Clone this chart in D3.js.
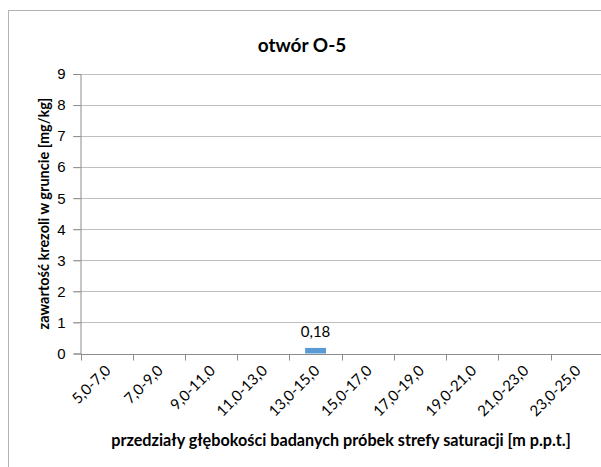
<!DOCTYPE html>
<html>
<head>
<meta charset="utf-8">
<script src="https://cdn.jsdelivr.net/npm/d3@7"></script>
<style>
  html, body { margin: 0; padding: 0; background: #fff; }
  svg { display: block; font-family: Lato, "Open Sans", sans-serif; }
</style>
</head>
<body>
<svg id="chart" width="601" height="467"></svg>
<script>
// Depth intervals of the saturation-zone samples (borehole O-5)
const categories = ["5,0-7,0", "7,0-9,0", "9,0-11,0", "11,0-13,0", "13,0-15,0",
                    "15,0-17,0", "17,0-19,0", "19,0-21,0", "21,0-23,0", "23,0-25,0"];
// Cresol content in soil [mg/kg]; null = no detection
const values = [null, null, null, null, 0.18, null, null, null, null, null];
const yTicks = [0, 1, 2, 3, 4, 5, 6, 7, 8, 9];

const svg = d3.select("#chart");

// outer chart border (extends past the right/bottom edge)
svg.append("rect")
  .attr("x", 8.5).attr("y", 10.5)
  .attr("width", 640).attr("height", 500)
  .attr("fill", "#fff").attr("stroke", "#b3b3b3").attr("stroke-width", 1);

const left = 80.5, bandW = 52.24;
const x = d3.scaleBand().domain(categories)
  .range([left, left + bandW * categories.length]).paddingInner(0.6).paddingOuter(0.3);
const xb = d3.scaleBand().domain(categories).range([left, left + bandW * categories.length]);
const y = d3.scaleLinear().domain([0, 9]).range([353.5, 74]);

// horizontal gridlines (with outward ticks)
svg.append("g").selectAll("line").data(yTicks.filter(d => d > 0)).join("line")
  .attr("x1", 73).attr("x2", 610)
  .attr("y1", d => Math.round(y(d)) + 0.5).attr("y2", d => Math.round(y(d)) + 0.5)
  .attr("stroke", "#bfbfbf").attr("stroke-width", 1);

// y axis
const yAxis = svg.append("g").attr("transform", `translate(${left},0)`)
  .call(d3.axisLeft(y).tickValues(yTicks).tickSize(7).tickPadding(8).tickFormat(d3.format("d")));
yAxis.select(".domain").attr("stroke", "#8c8c8c");
yAxis.selectAll(".tick line").attr("stroke", "#8c8c8c");
yAxis.selectAll(".tick text").attr("font-size", 15).attr("fill", "#000");

// x axis
const x0 = Math.round(y(0)) + 0.5;
const xAxis = svg.append("g").attr("transform", `translate(0,${x0})`)
  .call(d3.axisBottom(xb).tickSize(0).tickFormat(""));
xAxis.select(".domain").attr("stroke", "#8c8c8c").attr("d", `M${left},0H610`);
xAxis.selectAll(".tick").remove();
svg.append("g").selectAll("line").data(d3.range(categories.length + 1)).join("line")
  .attr("x1", i => Math.round(left + i * bandW) + 0.5)
  .attr("x2", i => Math.round(left + i * bandW) + 0.5)
  .attr("y1", x0).attr("y2", x0 + 6)
  .attr("stroke", "#8c8c8c");

// rotated category labels
svg.append("g").selectAll("text").data(categories).join("text")
  .attr("transform", d => `translate(${xb(d) + xb.bandwidth() / 2 + 5},${x0 + 17}) rotate(-45)`)
  .attr("text-anchor", "end")
  .attr("font-size", 15)
  .attr("fill", "#000")
  .text(d => d);

// bars
const data = categories.map((c, i) => ({ c, v: values[i] })).filter(d => d.v != null);
svg.append("g").selectAll("rect").data(data).join("rect")
  .attr("x", d => x(d.c)).attr("width", x.bandwidth())
  .attr("y", d => y(d.v)).attr("height", d => y(0) - y(d.v))
  .attr("fill", "#5b9bd5");

// data labels
svg.append("g").selectAll("text").data(data).join("text")
  .attr("x", d => x(d.c) + x.bandwidth() / 2)
  .attr("y", d => y(d.v) - 11)
  .attr("text-anchor", "middle")
  .attr("font-size", 15)
  .attr("fill", "#000")
  .text(d => String(d.v).replace(".", ","));

// title
svg.append("text")
  .attr("x", 302).attr("y", 52)
  .attr("text-anchor", "middle")
  .attr("font-size", 19).attr("font-weight", "bold")
  .text("otwór O-5");

// axis titles
svg.append("text")
  .attr("transform", `translate(49,${(74 + 353) / 2}) rotate(-90)`)
  .attr("text-anchor", "middle")
  .attr("font-size", 14.5).attr("font-weight", "bold")
  .text("zawartość krezoli w gruncie [mg/kg]");

svg.append("text")
  .attr("x", 341).attr("y", 446)
  .attr("text-anchor", "middle")
  .attr("font-size", 16.2).attr("font-weight", "bold")
  .text("przedziały głębokości badanych próbek strefy saturacji [m p.p.t.]");
</script>
</body>
</html>
